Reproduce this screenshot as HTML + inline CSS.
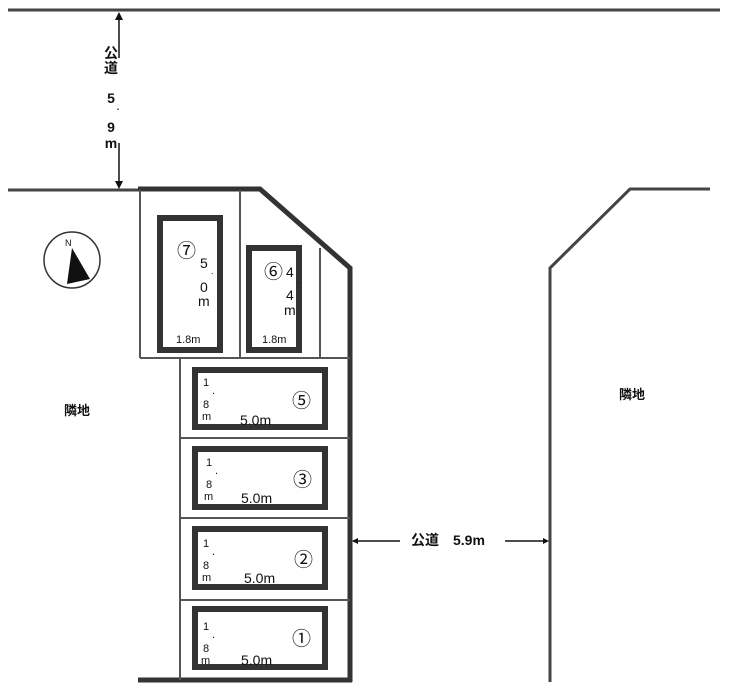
<!DOCTYPE html>
<html><head><meta charset="utf-8"><style>
body{margin:0;background:#fff}
svg text{font-family:"Liberation Sans","Noto Sans CJK JP",sans-serif;fill:#111}
</style></head><body>
<svg width="730" height="690" viewBox="0 0 730 690" xmlns="http://www.w3.org/2000/svg">
<g stroke="#444" fill="none">
<line x1="8" y1="10" x2="720" y2="10" stroke-width="3"/>
<line x1="8" y1="190" x2="140" y2="190" stroke-width="3"/>
<polyline points="710,189 630,189 550,268 550,682" stroke-width="3"/>
</g>
<g stroke="#333" fill="none">
<polyline points="138,189 260,189 350,268 350,682" stroke-width="5"/>
<line x1="138" y1="680" x2="352" y2="680" stroke-width="5"/>
</g>
<g stroke="#555" fill="none" stroke-width="2">
<line x1="140" y1="190" x2="140" y2="358"/>
<line x1="140" y1="358" x2="350" y2="358"/>
<line x1="180" y1="358" x2="180" y2="680"/>
<line x1="240" y1="190" x2="240" y2="358"/>
<line x1="320" y1="248" x2="320" y2="358"/>
<line x1="180" y1="438" x2="350" y2="438"/>
<line x1="180" y1="518" x2="350" y2="518"/>
<line x1="180" y1="600" x2="350" y2="600"/>
</g>
<g stroke="#333" fill="none" stroke-width="6">
<rect x="160" y="218" width="60" height="132"/>
<rect x="249" y="248" width="50" height="102"/>
<rect x="195" y="370" width="130" height="57"/>
<rect x="195" y="449" width="130" height="58"/>
<rect x="195" y="529" width="130" height="58"/>
<rect x="195" y="609" width="130" height="58"/>
</g>
<g stroke="#111" stroke-width="1.5">
<line x1="119" y1="14" x2="119" y2="58"/>
<line x1="119" y1="143" x2="119" y2="186"/>
<line x1="353" y1="541" x2="400" y2="541"/>
<line x1="505" y1="541" x2="547" y2="541"/>
</g>
<polygon points="119,12 115,20 123,20" fill="#111"/>
<polygon points="119,189 115,181 123,181" fill="#111"/>
<polygon points="352,541 358,538 358,544" fill="#111"/>
<polygon points="549,541 543,538 543,544" fill="#111"/>
<g font-size="14" font-weight="bold" text-anchor="middle">
<text x="111" y="58">公</text><text x="111" y="73">道</text>
<text x="111" y="103">5</text><text x="118" y="110" font-size="9">.</text>
<text x="111" y="132">9</text><text x="111" y="148">m</text>
</g>
<text x="411" y="545" font-size="14" font-weight="bold">公道　5.9m</text>
<text x="64" y="415" font-size="13" font-weight="bold">隣地</text>
<text x="619" y="399" font-size="13" font-weight="bold">隣地</text>
<circle cx="72" cy="260" r="28" fill="none" stroke="#333" stroke-width="1.5"/>
<polygon points="72,248 67,284 90,279" fill="#111"/>
<text x="65" y="246" font-size="9">N</text>
<g font-size="19"><text x="177" y="257">⑦</text><text x="264" y="278">⑥</text>
<text x="292" y="407">⑤</text><text x="293" y="486">③</text><text x="294" y="566">②</text><text x="292" y="645">①</text></g>
<g font-size="14"><text x="200" y="268">5</text><text x="211" y="274" font-size="9">.</text><text x="200" y="292">0</text><text x="198" y="306">m</text>
<text x="286" y="277">4</text><text x="297" y="283" font-size="9">.</text><text x="286" y="300">4</text><text x="284" y="315">m</text></g>
<g font-size="11"><text x="176" y="343">1.8m</text><text x="262" y="343">1.8m</text></g>
<g font-size="11">
<text x="203" y="386">1</text><text x="212" y="394">.</text><text x="203" y="408">8</text><text x="202" y="420">m</text>
<text x="206" y="466">1</text><text x="215" y="474">.</text><text x="206" y="488">8</text><text x="204" y="500">m</text>
<text x="203" y="547">1</text><text x="212" y="555">.</text><text x="203" y="569">8</text><text x="202" y="581">m</text>
<text x="203" y="630">1</text><text x="212" y="638">.</text><text x="203" y="652">8</text><text x="201" y="664">m</text>
</g>
<g font-size="14"><text x="240" y="425">5.0m</text><text x="241" y="503">5.0m</text><text x="244" y="583">5.0m</text><text x="241" y="665">5.0m</text></g>
</svg>
</body></html>
